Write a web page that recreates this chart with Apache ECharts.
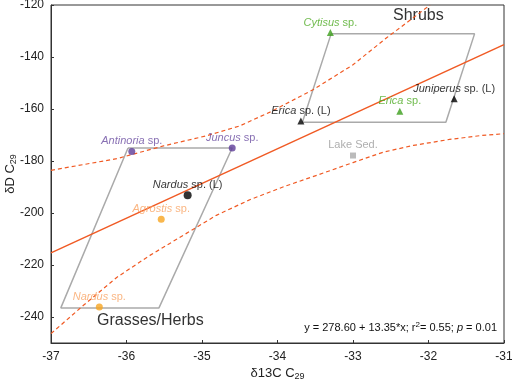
<!DOCTYPE html>
<html>
<head>
<meta charset="utf-8">
<script src="https://cdn.jsdelivr.net/npm/echarts@6/dist/echarts.min.js"></script>
<style>html,body{margin:0;padding:0;background:#fff}#c{width:512px;height:384px}</style>
</head>
<body>
<div id="c"></div>
<script>
// ---- data ----
var xTicks = [-37, -36, -35, -34, -33, -32, -31];
var yTicks = [-240, -220, -200, -180, -160, -140, -120];

var purpleNames = ['Antinoria', 'Juncus'];
var purpleX = [-35.93, -34.60];
var purpleY = [-176.3, -175.0];

var blackCircleNames = ['Nardus'];
var blackCircleX = [-35.19];
var blackCircleY = [-193.2];

var orangeNames = ['Agrostis', 'Nardus'];
var orangeX = [-35.54, -36.36];
var orangeY = [-202.4, -236.2];

var greenNames = ['Cytisus', 'Erica'];
var greenX = [-33.30, -32.38];
var greenY = [-130.6, -160.9];

var blackTriNames = ['Erica', 'Juniperus'];
var blackTriX = [-33.69, -31.66];
var blackTriY = [-164.6, -156.1];

var lakeX = [-33.0];
var lakeY = [-177.9];

// regression y = 278.60 + 13.35*x, drawn between axis ends
var regX = [-37, -31];
var regY = [-215.35, -135.25];

// confidence bands
var upperX = [-37.0, -36.13, -35.51, -34.94, -34.5, -34.1, -33.53, -33.0, -32.55, -32.16, -31.98];
var upperY = [-183.6, -179.1, -174.2, -170.3, -166.5, -161.2, -152.6, -143.0, -132.5, -124.0, -120.0];
var lowerX = [-37.0, -36.57, -36.13, -35.69, -35.25, -34.81, -34.36, -33.9, -33.48, -33.0, -32.6, -32.2, -31.72, -31.3, -31.0];
var lowerY = [-246.4, -235.5, -224.8, -216.3, -208.6, -200.9, -194.8, -189.7, -185.5, -180.6, -176.6, -174.0, -171.7, -170.2, -169.5];

// class envelopes
var grassX = [-35.98, -34.60, -35.57, -36.87, -35.98];
var grassY = [-175.0, -175.0, -236.5, -236.5, -175.0];
var shrubX = [-33.29, -31.39, -31.77, -33.67, -33.29];
var shrubY = [-131.1, -131.1, -165.1, -165.1, -131.1];

function pairs(xs, ys) { return xs.map(function (x, i) { return [x, ys[i]]; }); }
function pts(names, xs, ys, suffix) {
  return xs.map(function (x, i) { return { value: [x, ys[i]], name: names[i], suffix: suffix ? suffix[i] : '' }; });
}

var chart = echarts.init(document.getElementById('c'), null, { renderer: 'canvas' });
var FONT = 'Liberation Sans, Arial, sans-serif';
var RED = '#f05a24';

function lbl(color) {
  return {
    show: true, position: 'top', distance: 1,
    fontFamily: FONT, fontSize: 11, color: color,
    formatter: function (p) { return '{i|' + p.data.name + '} sp.' + (p.data.suffix || ''); },
    rich: { i: { fontStyle: 'italic', fontFamily: FONT, fontSize: 11, color: color } }
  };
}

var option = {
  animation: false,
  backgroundColor: '#fff',
  grid: { left: 51, right: 8, top: 5, bottom: 41, outerBoundsMode: 'none', containLabel: false,
    show: true, borderColor: '#333', borderWidth: 1, backgroundColor: 'transparent' },
  xAxis: {
    type: 'value', min: -37, max: -31, interval: 1,
    name: '{a|δ13C C}{s|29}', nameLocation: 'middle', nameGap: 23, nameMoveOverlap: false,
    nameTextStyle: { fontFamily: FONT, fontSize: 13, color: '#222',
      rich: { a: { fontFamily: FONT, fontSize: 13, color: '#222' }, s: { fontFamily: FONT, fontSize: 9, color: '#222', verticalAlign: 'bottom', padding: [6, 0, 0, 0] } } },
    axisLine: { show: true, onZero: false, lineStyle: { color: '#333', width: 1 } },
    axisTick: { show: true, inside: true, length: 3, lineStyle: { color: '#333' } },
    axisLabel: { fontFamily: FONT, fontSize: 12, color: '#222', margin: 8 },
    splitLine: { show: false }
  },
  yAxis: {
    type: 'value', min: -250, max: -120, interval: 10,
    name: '{a|δD C}{s|29}', nameLocation: 'middle', nameGap: 33, nameRotate: 90, nameMoveOverlap: false,
    nameTextStyle: { fontFamily: FONT, fontSize: 13, color: '#222',
      rich: { a: { fontFamily: FONT, fontSize: 13, color: '#222' }, s: { fontFamily: FONT, fontSize: 9, color: '#222', padding: [6, 0, 0, 0] } } },
    axisLine: { show: true, onZero: false, lineStyle: { color: '#333', width: 1 } },
    axisTick: { show: true, inside: true, length: 3, customValues: yTicks, lineStyle: { color: '#333' } },
    axisLabel: { fontFamily: FONT, fontSize: 12, color: '#222', margin: 7, customValues: yTicks },
    splitLine: { show: false }
  },
  series: [
    { type: 'line', data: pairs(grassX, grassY), symbol: 'none', silent: true, lineStyle: { color: '#aaaaaa', width: 1.5 }, z: 1 },
    { type: 'line', data: pairs(shrubX, shrubY), symbol: 'none', silent: true, lineStyle: { color: '#aaaaaa', width: 1.5 }, z: 1 },
    { type: 'line', data: pairs(regX, regY), symbol: 'none', lineStyle: { color: RED, width: 1.5 }, z: 2 },
    { type: 'line', data: pairs(upperX, upperY), symbol: 'none', smooth: false, lineStyle: { color: RED, width: 1.2, type: [4, 3] }, z: 2 },
    { type: 'line', data: pairs(lowerX, lowerY), symbol: 'none', smooth: false, lineStyle: { color: RED, width: 1.2, type: [4, 3] }, z: 2 },
    { type: 'scatter', data: pts(purpleNames, purpleX, purpleY), symbol: 'circle', symbolSize: 7, itemStyle: { color: '#5e3c99' }, label: lbl('#6a4ca0'), z: 5 },
    { type: 'scatter', data: pts(blackCircleNames, blackCircleX, blackCircleY, [' (L)']), symbol: 'circle', symbolSize: 8, itemStyle: { color: '#000' }, label: lbl('#000'), z: 5 },
    { type: 'scatter', data: pts(orangeNames, orangeX, orangeY), symbol: 'circle', symbolSize: 7, itemStyle: { color: '#f7a520' }, label: lbl('#f9a464'), z: 5 },
    { type: 'scatter', data: pts(greenNames, greenX, greenY), symbol: 'triangle', symbolSize: 7, itemStyle: { color: '#3b9e1a' }, label: lbl('#4caa22'), z: 5 },
    { type: 'scatter', data: pts(blackTriNames, blackTriX, blackTriY, [' (L)', ' (L)']), symbol: 'triangle', symbolSize: 7, itemStyle: { color: '#000' }, label: lbl('#000'), z: 5 },
    { type: 'scatter', data: pairs(lakeX, lakeY), symbol: 'rect', symbolSize: 6, itemStyle: { color: '#aaaaaa' },
      label: { show: true, position: 'top', distance: 2, formatter: 'Lake Sed.', fontFamily: FONT, fontSize: 11, color: '#9a9a9a' }, z: 5 }
  ],
  graphic: [
    { type: 'text', left: 393, top: 8, style: { text: 'Shrubs', fontFamily: FONT, fontSize: 16, fill: '#333' } },
    { type: 'text', left: 97, top: 313, style: { text: 'Grasses/Herbs', fontFamily: FONT, fontSize: 16, fill: '#333' } },
    { type: 'text', right: 15, top: 321, style: {
        text: '{n|y = 278.60 + 13.35*x; r}{sup|2}{n|= 0.55; }{i|p}{n| = 0.01}',
        rich: {
          n: { fontFamily: FONT, fontSize: 11, fill: '#111' },
          i: { fontFamily: FONT, fontSize: 11, fontStyle: 'italic', fill: '#111' },
          sup: { fontFamily: FONT, fontSize: 8, fill: '#111', padding: [0, 0, 6, 0] }
        } } }
  ]
};
chart.setOption(option);
</script>
</body>
</html>
